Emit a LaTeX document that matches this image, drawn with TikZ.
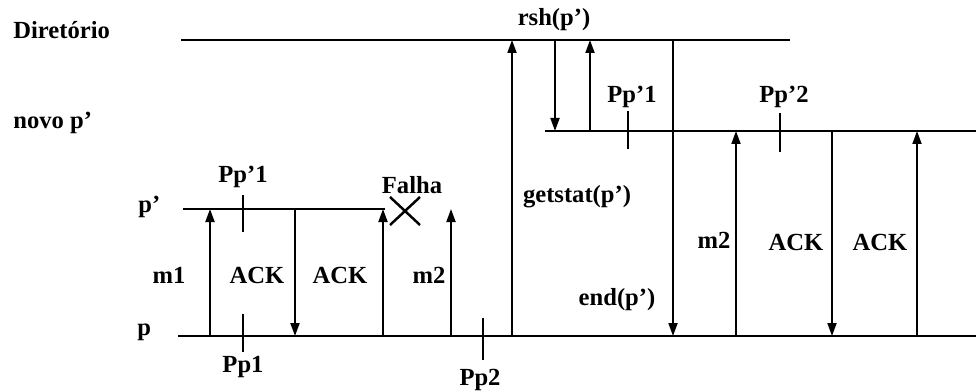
\documentclass[tikz,border=0pt]{standalone}
\usepackage{fontspec}
\setmainfont{Liberation Serif}
\usepackage{tikz}
\usetikzlibrary{arrows.meta, positioning}

\begin{document}
\begin{tikzpicture}[
        timeline/.style={line width=1.6pt},
        msg/.style={-{Triangle[length=2.6mm, width=1.8mm]}, line width=1.1pt},
        tick/.style={line width=1.6pt},
        lbl/.style={font=\fontsize{14}{16}\selectfont\bfseries, inner sep=0pt}
    ]
        \useasboundingbox (0,0) rectangle (19.52,7.82);

        % Process lines
        \coordinate (dirL) at (3.62,7.02);  \coordinate (dirR) at (15.8,7.02);
        \coordinate (novoL) at (10.9,5.2);  \coordinate (novoR) at (19.52,5.2);
        \coordinate (plL) at (3.66,3.64);   \coordinate (plR) at (7.7,3.64);
        \coordinate (pL) at (3.56,1.1);     \coordinate (pR) at (19.52,1.1);
        \draw[timeline] (dirL) -- (dirR);
        \draw[timeline] (novoL) -- (novoR);
        \draw[timeline] (plL) -- (plR);
        \draw[timeline] (pL) -- (pR);

        % Process names
        \node[lbl, anchor=west] (dirName) at (0.26,7.22) {Diretório};
        \node[lbl, anchor=west] (novoName) at (0.26,5.36) {novo p’};
        \node[lbl, anchor=west] (plName) at (2.76,3.68) {p’};
        \node[lbl, anchor=west] (pName) at (2.74,1.18) {p};

        % Messages before the failure
        \draw[msg] (4.2,0 |- pL) -- (4.2,0 |- plL);
        \draw[msg] (5.9,0 |- plL) -- (5.9,0 |- pL);
        \draw[msg] (7.66,0 |- pL) -- (7.66,0 |- plL);
        \draw[msg] (9.02,0 |- pL) -- (9.02,0 |- plL);

        % Failure of p'
        \coordinate (fail) at (8.1,3.6);
        \draw[line width=1.4pt] (fail) ++(-0.3,-0.28) -- ++(0.6,0.56);
        \draw[line width=1.4pt] (fail) ++(-0.3,0.28) -- ++(0.6,-0.56);

        % Messages after the failure
        \draw[msg] (10.24,0 |- pL) -- (10.24,0 |- dirL);
        \draw[msg] (11.1,0 |- dirL) -- (11.1,0 |- novoL);
        \draw[msg] (11.8,0 |- novoL) -- (11.8,0 |- dirL);
        \draw[msg] (13.46,0 |- dirL) -- (13.46,0 |- pL);
        \draw[msg] (14.72,0 |- pL) -- (14.72,0 |- novoL);
        \draw[msg] (16.64,0 |- novoL) -- (16.64,0 |- pL);
        \draw[msg] (18.34,0 |- pL) -- (18.34,0 |- novoL);

        % Checkpoints
        \draw[tick] (4.86,0 |- plL) ++(0,0.28) -- ++(0,-0.74);
        \draw[tick] (4.86,0 |- pL) ++(0,0.44) -- ++(0,-0.76);
        \draw[tick] (9.66,0 |- pL) ++(0,0.36) -- ++(0,-0.84);
        \draw[tick] (12.56,0 |- novoL) ++(0,0.4) -- ++(0,-0.76);
        \draw[tick] (15.6,0 |- novoL) ++(0,0.36) -- ++(0,-0.78);

        % Labels
        \node[lbl] (lblPpa) at (4.86,4.28) {Pp’1};
        \node[lbl] (lblPa) at (4.86,0.48) {Pp1};
        \node[lbl] (lblPb) at (9.6,0.22) {Pp2};
        \node[lbl] (lblFail) at (8.24,4.12) {Falha};
        \node[lbl] (lblMa) at (3.38,2.32) {m1};
        \node[lbl] (lblAcka) at (5.14,2.32) {ACK};
        \node[lbl] (lblAckb) at (6.8,2.32) {ACK};
        \node[lbl] (lblMb) at (8.58,2.32) {m2};
        \node[lbl] (lblGet) at (11.54,3.88) {getstat(p’)};
        \node[lbl] (lblRsh) at (11.08,7.42) {rsh(p’)};
        \node[lbl] (lblNPa) at (12.64,5.88) {Pp’1};
        \node[lbl] (lblNPb) at (15.68,5.88) {Pp’2};
        \node[lbl] (lblEnd) at (12.34,1.82) {end(p’)};
        \node[lbl] (lblMc) at (14.28,3.02) {m2};
        \node[lbl] (lblAckc) at (15.92,2.98) {ACK};
        \node[lbl] (lblAckd) at (17.6,2.98) {ACK};
    \end{tikzpicture}
\end{document}
